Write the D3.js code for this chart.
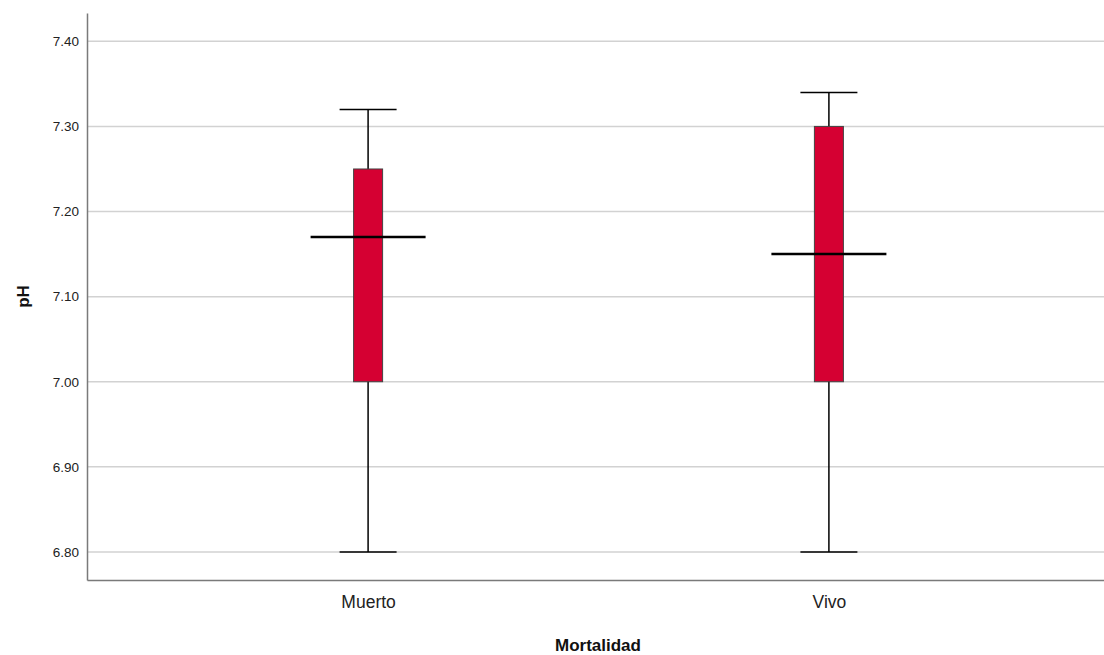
<!DOCTYPE html>
<html><head><meta charset="utf-8">
<script src="https://cdn.jsdelivr.net/npm/d3@7"></script>
<style>body{margin:0;background:#fff}svg{display:block}</style>
</head><body>
<script>
const categories = ["Muerto", "Vivo"];
const whiskerLow = [6.80, 6.80];
const boxLow = [7.00, 7.00];
const median = [7.17, 7.15];
const boxHigh = [7.25, 7.30];
const whiskerHigh = [7.32, 7.34];
const yTicks = [6.80, 6.90, 7.00, 7.10, 7.20, 7.30, 7.40];

const W = 1104, H = 655;
const m = {left: 87, right: -6, top: 13, bottom: 75};
const svg = d3.select("body").append("svg").attr("width", W).attr("height", H);
const y = d3.scaleLinear().domain([6.767, 7.4333]).range([H - m.bottom, m.top]);
const x = d3.scalePoint().domain(categories).range([m.left, W - m.right]).padding(0.61);

// gridlines
svg.append("g").selectAll("line").data(yTicks).join("line")
  .attr("x1", m.left).attr("x2", W).attr("y1", d => y(d)).attr("y2", d => y(d))
  .attr("stroke", "#d2d2d2").attr("stroke-width", 1.5);

// y axis
const ya = svg.append("g").attr("transform", `translate(${m.left},0)`)
  .call(d3.axisLeft(y).tickValues(yTicks).tickFormat(d3.format(".2f")).tickSize(0).tickPadding(8));
ya.select(".domain").attr("stroke", "#7a7a7a").attr("stroke-width", 1.5);
ya.selectAll("text").attr("font-family", "Arial, 'Liberation Sans', sans-serif").attr("font-size", 13.5).attr("fill", "#222");

// x axis
const xa = svg.append("g").attr("transform", `translate(0,${H - m.bottom})`)
  .call(d3.axisBottom(x).tickSize(0).tickPadding(16));
xa.select(".domain").attr("stroke", "#7a7a7a").attr("stroke-width", 1.5);
xa.selectAll("text").attr("font-family", "Arial, 'Liberation Sans', sans-serif").attr("font-size", 17.5).attr("fill", "#222");

const data = categories.map((c, i) => ({c, wl: whiskerLow[i], bl: boxLow[i], med: median[i], bh: boxHigh[i], wh: whiskerHigh[i]}));
const g = svg.append("g").selectAll("g").data(data).join("g");
// whisker stems
g.append("line").attr("x1", d => x(d.c)).attr("x2", d => x(d.c))
  .attr("y1", d => y(d.wh)).attr("y2", d => y(d.wl)).attr("stroke", "#000").attr("stroke-width", 1.5);
// caps
["wh", "wl"].forEach(k => {
  g.append("line").attr("x1", d => x(d.c) - 28.5).attr("x2", d => x(d.c) + 28.5)
    .attr("y1", d => y(d[k])).attr("y2", d => y(d[k])).attr("stroke", "#000").attr("stroke-width", 1.5);
});
// box
g.append("rect").attr("x", d => x(d.c) - 14.5).attr("width", 29)
  .attr("y", d => y(d.bh)).attr("height", d => y(d.bl) - y(d.bh))
  .attr("fill", "#d50032").attr("stroke", "#444").attr("stroke-width", 1);
// median
g.append("line").attr("x1", d => x(d.c) - 57.5).attr("x2", d => x(d.c) + 57.5)
  .attr("y1", d => y(d.med)).attr("y2", d => y(d.med)).attr("stroke", "#000").attr("stroke-width", 2.5);

// axis titles
svg.append("text").attr("x", 598).attr("y", 651).attr("text-anchor", "middle")
  .attr("font-family", "Arial, 'Liberation Sans', sans-serif").attr("font-weight", "bold").attr("font-size", 17).attr("fill", "#111").text("Mortalidad");
svg.append("text").attr("transform", `translate(29,${(m.top + H - m.bottom) / 2}) rotate(-90)`).attr("text-anchor", "middle")
  .attr("font-family", "Arial, 'Liberation Sans', sans-serif").attr("font-weight", "bold").attr("font-size", 17).attr("fill", "#111").text("pH");
</script>
</body></html>
